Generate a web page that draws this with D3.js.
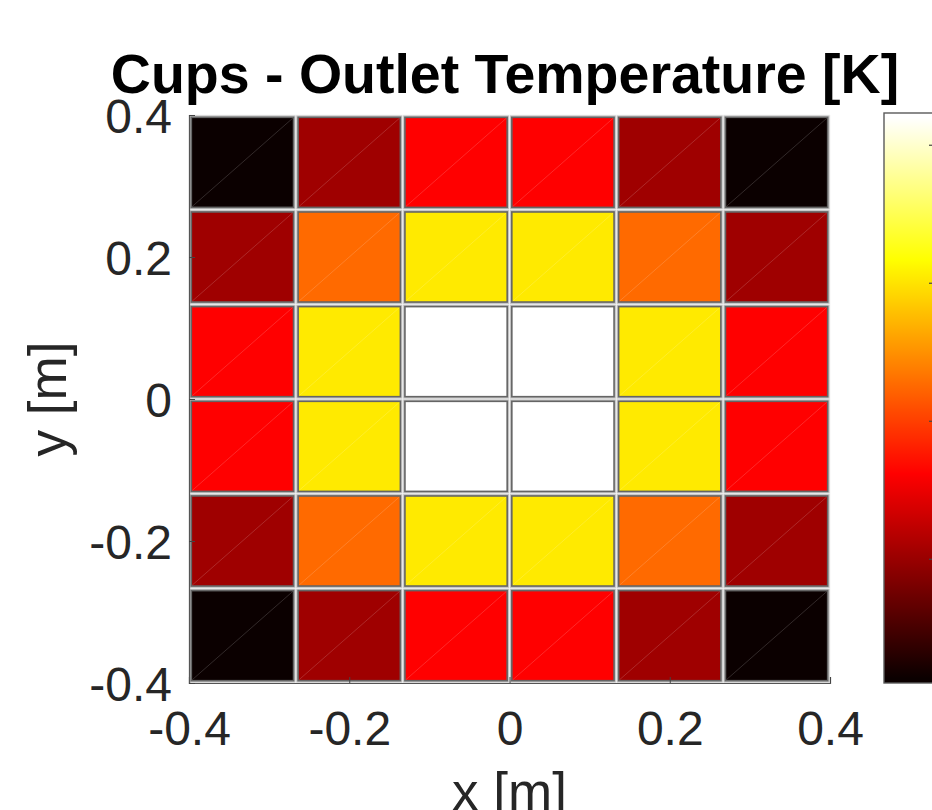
<!DOCTYPE html>
<html>
<head>
<meta charset="utf-8">
<script src="https://cdn.jsdelivr.net/npm/d3@7"></script>
<style>
  html, body { margin: 0; padding: 0; background: #fff; }
  svg { display: block; font-family: "Liberation Sans", Arial, Helvetica, sans-serif; }
</style>
</head>
<body>
<svg id="chart" width="932" height="810"></svg>
<script>
// Cup centre coordinates [m]
const xCenters = [-0.3333, -0.2, -0.0667, 0.0667, 0.2, 0.3333];
const yCenters = [0.3333, 0.2, 0.0667, -0.0667, -0.2, -0.3333];
// Outlet temperature per cup [K], rows from top (y = 0.4) to bottom
const row1 = [301.0, 310.3, 316.2, 316.2, 310.3, 301.0];
const row2 = [310.3, 322.6, 330.4, 330.4, 322.6, 310.3];
const row3 = [316.2, 330.4, 342.3, 342.3, 330.4, 316.2];
const row4 = [316.2, 330.4, 342.3, 342.3, 330.4, 316.2];
const row5 = [310.3, 322.6, 330.4, 330.4, 322.6, 310.3];
const row6 = [301.0, 310.3, 316.2, 316.2, 310.3, 301.0];
const tempRows = [row1, row2, row3, row4, row5, row6];
const xTicks = [-0.4, -0.2, 0, 0.2, 0.4];
const yTicks = [-0.4, -0.2, 0, 0.2, 0.4];
const cbarTicks = [310, 320, 330, 340];
const cellSize = 0.8 / 6;

const svg = d3.select("#chart");

const plot = { left: 189, right: 830, top: 115, bottom: 683 };
const x = d3.scaleLinear().domain([-0.4, 0.4]).range([plot.left, plot.right]);
const y = d3.scaleLinear().domain([-0.4, 0.4]).range([plot.bottom, plot.top]);

// 64-level "hot" colormap
const N = 64, n3 = Math.floor(3 / 8 * N);
const hot = d3.range(N).map(i => {
  const k = i + 1;
  const r = Math.min(k / n3, 1);
  const g = Math.max(0, Math.min((k - n3) / n3, 1));
  const b = Math.max(0, (k - 2 * n3) / (N - 2 * n3));
  return d3.rgb(r * 255, g * 255, b * 255).formatHex();
});
const allTemps = tempRows.flat();
const tMin = d3.min(allTemps), tMax = d3.max(allTemps);
const color = d3.scaleQuantize().domain([tMin, tMax]).range(hot);

// Heatmap background (cell separators)
svg.append("rect")
  .attr("x", plot.left).attr("y", plot.top)
  .attr("width", plot.right - plot.left).attr("height", plot.bottom - plot.top)
  .attr("fill", "#c2c2c2");

const cells = [];
tempRows.forEach((row, j) => row.forEach((v, i) => cells.push({ xc: xCenters[i], yc: yCenters[j], v })));

const inset = 2.3;
const cellG = svg.append("g");
cellG.selectAll("rect.cell").data(cells).join("rect")
  .attr("class", "cell")
  .attr("x", d => x(d.xc - cellSize / 2) + inset)
  .attr("y", d => y(d.yc + cellSize / 2) + inset)
  .attr("width", d => x(d.xc + cellSize / 2) - x(d.xc - cellSize / 2) - 2 * inset)
  .attr("height", d => y(d.yc - cellSize / 2) - y(d.yc + cellSize / 2) - 2 * inset)
  .attr("fill", d => color(d.v))
  .attr("stroke", "#656565")
  .attr("stroke-width", 1.6);

// faint triangle seams across each face
cellG.selectAll("line.seam").data(cells).join("line")
  .attr("class", "seam")
  .attr("x1", d => x(d.xc - cellSize / 2) + inset + 1)
  .attr("y1", d => y(d.yc - cellSize / 2) - inset - 1)
  .attr("x2", d => x(d.xc + cellSize / 2) - inset - 1)
  .attr("y2", d => y(d.yc + cellSize / 2) + inset + 1)
  .attr("stroke", "#ffffff")
  .attr("stroke-opacity", 0.16)
  .attr("stroke-width", 1);

// white centre of separators
const edgesX = d3.range(7).map(k => -0.4 + k * cellSize);
svg.append("g").selectAll("line.vx").data(edgesX).join("line")
  .attr("x1", d => x(d)).attr("x2", d => x(d))
  .attr("y1", plot.top).attr("y2", plot.bottom)
  .attr("stroke", "#f4f4f4").attr("stroke-width", 0.9);
svg.append("g").selectAll("line.hy").data(edgesX).join("line")
  .attr("y1", d => y(d)).attr("y2", d => y(d))
  .attr("x1", plot.left).attr("x2", plot.right)
  .attr("stroke", "#f4f4f4").attr("stroke-width", 0.9);

// Axes
const axisColor = "#262626";
const xAxis = svg.append("g").attr("transform", `translate(0,${plot.bottom})`)
  .call(d3.axisBottom(x).tickValues(xTicks).tickSize(-6).tickPadding(22).tickFormat(d3.format("")));
const yAxis = svg.append("g").attr("transform", `translate(${plot.left},0)`)
  .call(d3.axisLeft(y).tickValues(yTicks).tickSize(-6).tickPadding(16).tickFormat(d3.format("")));
[xAxis, yAxis].forEach(a => {
  a.select(".domain").attr("stroke", "#555").attr("stroke-width", 1.2);
  a.selectAll(".tick line").attr("stroke", "#444").attr("stroke-width", 1);
  a.selectAll(".tick text").attr("fill", axisColor).attr("font-size", 48)
    .attr("font-family", "Liberation Sans, Arial, sans-serif");
});
xAxis.selectAll(".tick text").attr("dy", "0.71em").attr("y", 28);
yAxis.selectAll(".tick text").attr("x", -17).attr("dy", "0.36em");
// minus signs as hyphens
xAxis.selectAll(".tick text").text(d => String(d).replace("−", "-"));
yAxis.selectAll(".tick text").text(d => String(d).replace("−", "-"));

// Axis labels
svg.append("text")
  .attr("x", (plot.left + plot.right) / 2).attr("y", 810)
  .attr("text-anchor", "middle").attr("font-size", 53).attr("fill", axisColor)
  .text("x [m]");
svg.append("text")
  .attr("transform", `translate(66,${(plot.top + plot.bottom) / 2}) rotate(-90)`)
  .attr("text-anchor", "middle").attr("font-size", 53).attr("fill", axisColor)
  .text("y [m]");

// Title
svg.append("text")
  .attr("x", 505).attr("y", 93)
  .attr("text-anchor", "middle").attr("font-size", 55.5).attr("font-weight", "bold")
  .attr("fill", "#000")
  .text("Cups - Outlet Temperature [K]");

// Colorbar (smooth ramp through the colormap levels)
const cb = { x: 884, width: 54, top: 113, bottom: 683 };
const cy = d3.scaleLinear().domain([tMin, tMax]).range([cb.bottom, cb.top]);
const grad = svg.append("defs").append("linearGradient")
  .attr("id", "cbGrad").attr("x1", 0).attr("y1", 1).attr("x2", 0).attr("y2", 0);
grad.selectAll("stop").data(hot).join("stop")
  .attr("offset", (c, i) => (i + 0.5) / N)
  .attr("stop-color", c => c);
svg.append("rect")
  .attr("x", cb.x).attr("y", cy(tMax)).attr("width", cb.width).attr("height", cy(tMin) - cy(tMax))
  .attr("fill", "url(#cbGrad)");
svg.append("rect")
  .attr("x", cb.x).attr("y", cb.top).attr("width", cb.width).attr("height", cb.bottom - cb.top)
  .attr("fill", "none").attr("stroke", "#5a5a5a").attr("stroke-width", 1.4);
const cbAxis = svg.append("g").attr("transform", `translate(${cb.x + cb.width},0)`)
  .call(d3.axisRight(cy).tickValues(cbarTicks).tickSize(-9).tickPadding(14));
cbAxis.select(".domain").remove();
cbAxis.selectAll(".tick line").attr("stroke", "#444").attr("stroke-width", 1.2);
cbAxis.selectAll(".tick text").attr("font-size", 48).attr("fill", axisColor);
</script>
</body>
</html>
